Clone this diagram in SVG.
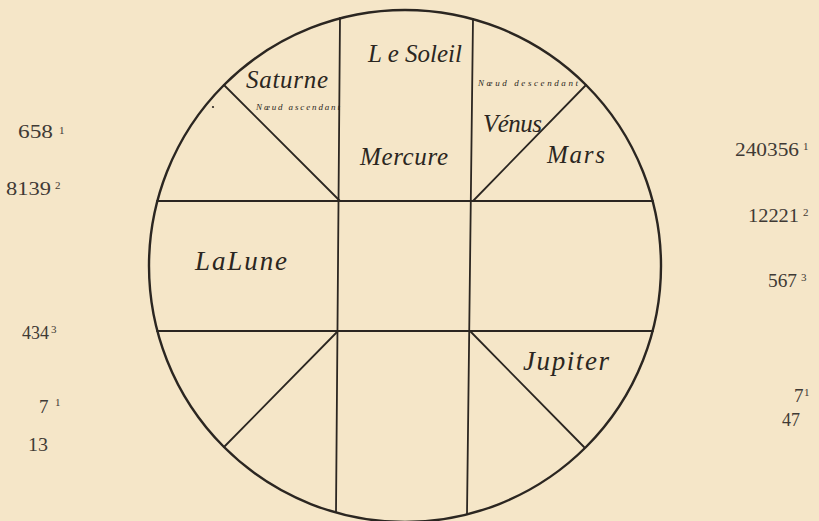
<svg xmlns="http://www.w3.org/2000/svg" width="819" height="521" viewBox="0 0 819 521">
<style>
.ln{stroke:#2b2621;stroke-width:1.8;fill:none;stroke-linecap:round}
.rim{stroke:#2b2621;stroke-width:2.4;fill:none}
.lab{font-family:"Liberation Serif",serif;font-style:italic;font-size:25px;fill:#2b2621}
.big{font-size:27px}
.tiny{font-family:"Liberation Serif",serif;font-style:italic;font-size:9px;fill:#2b2621}
.num{font-family:"Liberation Serif",serif;font-size:19px;fill:#3f3a35}
.sup{font-family:"Liberation Serif",serif;font-size:11px;fill:#3f3a35}
</style>
<rect width="819" height="521" fill="#f5e6c8"/>
<g id="connectors">
<circle class="rim" cx="405" cy="266" r="256"/>
<line class="ln" x1="340" y1="18" x2="336" y2="512"/>
<line class="ln" x1="473" y1="19" x2="467" y2="514"/>
<line class="ln" x1="157" y1="201" x2="653" y2="201"/>
<line class="ln" x1="157" y1="331" x2="653" y2="331"/>
<line class="ln" x1="224" y1="85" x2="340" y2="201"/>
<line class="ln" x1="586" y1="85" x2="473" y2="201"/>
<line class="ln" x1="338" y1="331" x2="224" y2="447"/>
<line class="ln" x1="470" y1="331" x2="584" y2="447"/>
<circle cx="213" cy="107" r="1.1" fill="#2b2621"/>
</g>
<g id="soleil"><text class="lab" x="368" y="62" textLength="94" lengthAdjust="spacing">L e Soleil</text></g>
<g id="saturne"><text class="lab" x="246" y="88" textLength="82" lengthAdjust="spacing">Saturne</text></g>
<g id="noeud-ascendant"><text class="tiny" x="256" y="110" textLength="84" lengthAdjust="spacing">Nœud ascendant</text></g>
<g id="noeud-descendant"><text class="tiny" x="478" y="86" textLength="100" lengthAdjust="spacing">Nœud descendant</text></g>
<g id="venus"><text class="lab" x="483" y="132" textLength="59" lengthAdjust="spacing">Vénus</text></g>
<g id="mars"><text class="lab" x="547" y="163" textLength="58" lengthAdjust="spacing">Mars</text></g>
<g id="mercure"><text class="lab" x="360" y="165" textLength="88" lengthAdjust="spacing">Mercure</text></g>
<g id="lune"><text class="lab big" x="195" y="270" textLength="92" lengthAdjust="spacing">LaLune</text></g>
<g id="jupiter"><text class="lab big" x="523" y="370" textLength="86" lengthAdjust="spacing">Jupiter</text></g>
<g id="numbers-left">
<text class="num" x="18" y="138" textLength="35" lengthAdjust="spacingAndGlyphs">658</text><text class="sup" x="59" y="134">1</text>
<text class="num" x="6" y="195" textLength="45" lengthAdjust="spacingAndGlyphs">8139</text><text class="sup" x="55" y="189">2</text>
<text class="num" x="22" y="339" textLength="27" lengthAdjust="spacingAndGlyphs">434</text><text class="sup" x="51" y="333">3</text>
<text class="num" x="39" y="413">7</text><text class="sup" x="55" y="406">1</text>
<text class="num" x="28" y="451" textLength="20" lengthAdjust="spacingAndGlyphs">13</text>
</g>
<g id="numbers-right">
<text class="num" x="735" y="156" textLength="64" lengthAdjust="spacingAndGlyphs">240356</text><text class="sup" x="803" y="150">1</text>
<text class="num" x="748" y="222" textLength="51" lengthAdjust="spacingAndGlyphs">12221</text><text class="sup" x="803" y="216">2</text>
<text class="num" x="768" y="287" textLength="29" lengthAdjust="spacingAndGlyphs">567</text><text class="sup" x="801" y="281">3</text>
<text class="num" x="794" y="402">7</text><text class="sup" x="804" y="396">1</text>
<text class="num" x="782" y="426" textLength="18" lengthAdjust="spacingAndGlyphs">47</text>
</g>
</svg>
